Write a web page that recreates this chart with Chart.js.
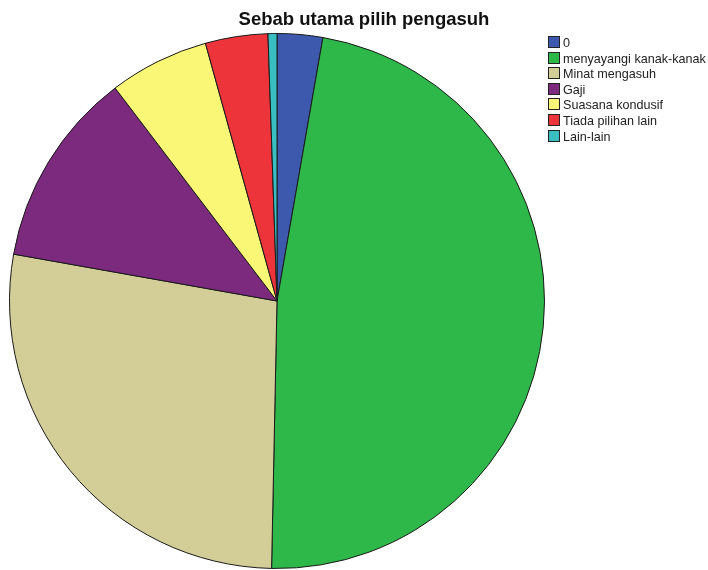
<!DOCTYPE html>
<html>
<head>
<meta charset="utf-8">
<script src="https://cdn.jsdelivr.net/npm/chart.js@4"></script>
<style>
  body { margin: 0; background: #fff; }
  #wrap { position: relative; width: 708px; height: 570px; }
  #title {
    position: absolute; left: 0; top: 8px; width: 728px; text-align: center;
    font: bold 18.5px "Liberation Sans", Arial, sans-serif; color: #111;
  }
  #legend {
    position: absolute; left: 548px; top: 36px;
    font: 12.6px "Liberation Sans", Arial, sans-serif; color: #222;
  }
  .item { height: 15.6px; line-height: 14px; white-space: nowrap; }
  .box {
    display: inline-block; width: 10px; height: 10px; border: 1px solid #222;
    vertical-align: -1px; margin-right: 3px;
  }
</style>
</head>
<body>
<div id="wrap">
  <canvas id="pie" width="708" height="570"></canvas>
  <div id="title">Sebab utama pilih pengasuh</div>
  <div id="legend"></div>
</div>
<script>
// kategori dan bilangan responden (anggaran dari gambar)
const labels = ["0", "menyayangi kanak-kanak", "Minat mengasuh", "Gaji",
  "Suasana kondusif", "Tiada pilihan lain", "Lain-lain"];
const counts = [5.1, 88.3, 51, 22, 11.2, 7, 1];
const colors = ["#3d59ad", "#2fb84a", "#d3ce97", "#7b2a7d",
  "#fbf776", "#ee343b", "#39bfc1"];

const ctx = document.getElementById("pie").getContext("2d");
new Chart(ctx, {
  type: "pie",
  data: {
    labels: labels,
    datasets: [
      {
        data: counts,
        backgroundColor: colors,
        borderColor: "#1a1a1a",
        borderWidth: 1,
      },
    ],
  },
  options: {
    responsive: false,
    animation: false,
    layout: { padding: { left: 9, right: 163, top: 33, bottom: 1 } },
    plugins: {
      legend: { display: false },
      tooltip: { enabled: false },
    },
  },
});

// legend di sebelah kanan
const lg = document.getElementById("legend");
labels.forEach((l, i) => {
  const row = document.createElement("div");
  row.className = "item";
  row.innerHTML = '<span class="box" style="background:' + colors[i] + '"></span>' + l;
  lg.appendChild(row);
});
</script>
</body>
</html>
